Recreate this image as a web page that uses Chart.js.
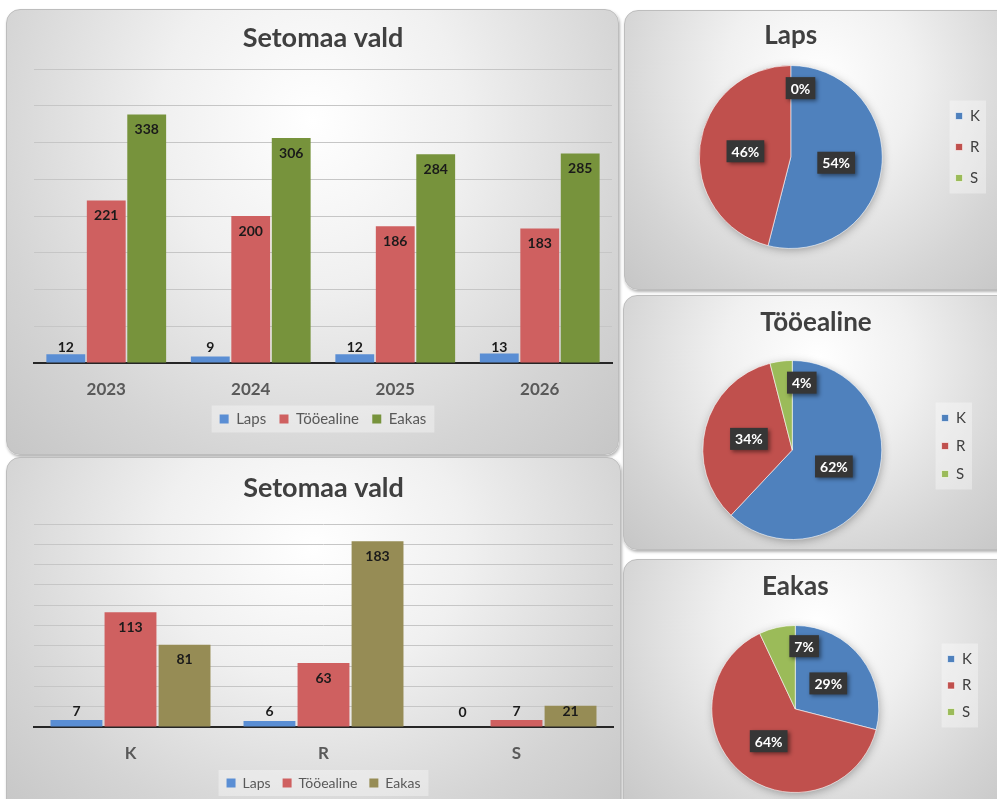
<!DOCTYPE html>
<html>
<head>
<meta charset="utf-8">
<script src="https://cdn.jsdelivr.net/npm/chart.js@4.4.0/dist/chart.umd.min.js"></script>
<style>
  html, body { margin: 0; padding: 0; background: #fff; overflow: hidden; }
  body { width: 997px; height: 799px; position: relative; font-family: Lato, sans-serif; }
  .panel {
    position: absolute;
    box-sizing: border-box;
    border: 1px solid #bdbdbd;
    border-radius: 14px;
    background: radial-gradient(ellipse at 50% 25%, #ffffff 0%, #f0f0f0 35%, #d4d4d4 75%, #c6c6c6 100%);
    box-shadow: 1px 2px 3px rgba(0, 0, 0, 0.3);
  }
  canvas { position: absolute; }
</style>
</head>
<body>
<div class="panel" style="left:6px; top:9px; width:613px; height:446px;"></div>
<div class="panel" style="left:6px; top:457px; width:615px; height:360px;"></div>
<div class="panel" style="left:624px; top:10px; width:390px; height:280px;"></div>
<div class="panel" style="left:623px; top:295px; width:390px; height:255px;"></div>
<div class="panel" style="left:623px; top:559px; width:390px; height:260px;"></div>

<canvas id="barYears" width="613" height="446" style="left:6px; top:9px;"></canvas>
<canvas id="barGroups" width="615" height="350" style="left:6px; top:457px;"></canvas>
<canvas id="pieLaps" width="373" height="280" style="left:624px; top:10px;"></canvas>
<canvas id="pieToo" width="374" height="255" style="left:623px; top:295px;"></canvas>
<canvas id="pieEakas" width="374" height="240" style="left:623px; top:559px;"></canvas>

<script>
// ---------------- data

const years = ['2023', '2024', '2025', '2026'];
const lapsByYear = [12, 9, 12, 13];
const tooealineByYear = [221, 200, 186, 183];
const eakasByYear = [338, 306, 284, 285];

const groups = ['K', 'R', 'S'];
const lapsByGroup = [7, 6, 0];
const tooealineByGroup = [113, 63, 7];
const eakasByGroup = [81, 183, 21];

// pie charts show shares in percent
const lapsPct = [54, 46, 0];
const tooealinePct = [62, 34, 4];
const eakasPct = [29, 64, 7];

const COLORS = {
    blue: '#5A8ED4',
    red: '#CF6060',
    green: '#77933C',
    olive: '#968C55',
    pieBlue: '#4F81BD',
    pieRed: '#C0504D',
    pieGreen: '#9BBB59'
};

const FONT = 'Lato';

// ---------------- plugins

// value labels: inside the top of the bar, or just above the axis for short bars
const barLabels = {
    id: 'barLabels',
    afterDatasetsDraw(chart) {
        const ctx = chart.ctx;
        ctx.save();
        ctx.font = 'bold 14px ' + FONT;
        ctx.fillStyle = '#1a1a1a';
        ctx.textAlign = 'center';
        ctx.textBaseline = 'middle';
        chart.data.datasets.forEach((ds, i) => {
            chart.getDatasetMeta(i).data.forEach((bar, j) => {
                const y = Math.min(bar.y + 15, bar.base - 15);
                ctx.fillText(ds.data[j], bar.x, y);
            });
        });
        ctx.restore();
    }
};

// light box behind the legend items
const legendBg = {
    id: 'legendBg',
    beforeDraw(chart, args, opts) {
        const boxes = chart.legend && chart.legend.legendHitBoxes;
        if (!boxes || !boxes.length) return;
        let l = Infinity, t = Infinity, r = -Infinity, b = -Infinity;
        boxes.forEach(h => {
            l = Math.min(l, h.left);
            t = Math.min(t, h.top);
            r = Math.max(r, h.left + h.width);
            b = Math.max(b, h.top + h.height);
        });
        const ctx = chart.ctx;
        ctx.save();
        ctx.fillStyle = 'rgba(255, 255, 255, 0.35)';
        ctx.fillRect(l - opts.padX, t - opts.padY, r - l + 2 * opts.padX, b - t + 2 * opts.padY);
        ctx.restore();
    }
};

// soft shadow under the pie
const pieShadow = {
    id: 'pieShadow',
    beforeDatasetsDraw(chart) {
        const arc = chart.getDatasetMeta(0).data[0];
        if (!arc) return;
        const ctx = chart.ctx;
        ctx.save();
        ctx.shadowColor = 'rgba(0, 0, 0, 0.35)';
        ctx.shadowBlur = 10;
        ctx.shadowOffsetX = 1;
        ctx.shadowOffsetY = 2;
        ctx.fillStyle = '#999';
        ctx.beginPath();
        ctx.arc(arc.x, arc.y, arc.outerRadius - 1, 0, Math.PI * 2);
        ctx.fill();
        ctx.restore();
    }
};

// percent labels in dark boxes
const pieLabels = {
    id: 'pieLabels',
    afterDatasetsDraw(chart) {
        const ctx = chart.ctx;
        const values = chart.data.datasets[0].data;
        chart.getDatasetMeta(0).data.forEach((arc, i) => {
            const v = values[i];
            let angle, dist;
            if (v >= 10) {
                angle = (arc.startAngle + arc.endAngle) / 2;
                dist = arc.outerRadius * 0.5;
            } else {
                // small slices: label moved next to the slice, like excel's best fit
                angle = arc.endAngle + 0.14;
                dist = arc.outerRadius * 0.76;
            }
            const x = arc.x + Math.cos(angle) * dist;
            const y = arc.y + Math.sin(angle) * dist;
            const txt = v + '%';
            ctx.save();
            ctx.font = 'bold 14px ' + FONT;
            const w = ctx.measureText(txt).width + 10;
            const h = 22;
            ctx.shadowColor = 'rgba(0, 0, 0, 0.45)';
            ctx.shadowBlur = 4;
            ctx.shadowOffsetX = 2;
            ctx.shadowOffsetY = 2;
            ctx.fillStyle = '#363636';
            ctx.fillRect(x - w / 2, y - h / 2, w, h);
            ctx.shadowColor = 'transparent';
            ctx.fillStyle = '#ffffff';
            ctx.textAlign = 'center';
            ctx.textBaseline = 'middle';
            ctx.fillText(txt, x, y + 1);
            ctx.restore();
        });
    }
};

// ---------------- charts

function barChart(id, labels, series, colors, lay) {
    const names = ['Laps', 'Tööealine', 'Eakas'];
    return new Chart(document.getElementById(id), {
        type: 'bar',
        data: {
            labels: labels,
            datasets: series.map((d, i) => ({
                label: names[i],
                data: d,
                backgroundColor: colors[i],
                barPercentage: 0.96,
                categoryPercentage: lay.cat
            }))
        },
        options: {
            responsive: false,
            animation: false,
            layout: { padding: { left: 28, right: lay.right, top: 0, bottom: lay.bottom } },
            scales: {
                x: {
                    grid: { display: false, drawTicks: false },
                    border: { display: true, color: '#262626', width: 2 },
                    ticks: { color: '#595959', padding: 16.8, font: { family: FONT, size: 17, weight: 'bold' } },
                    afterFit: scale => { scale.height = lay.axisHeight; }
                },
                y: {
                    min: 0,
                    max: lay.max,
                    ticks: { display: false, stepSize: lay.step },
                    grid: { color: '#c6c6c6', drawTicks: false },
                    border: { display: false }
                }
            },
            plugins: {
                title: {
                    display: true,
                    text: 'Setomaa vald',
                    color: '#404040',
                    font: { family: FONT, size: 27, weight: 'bold' },
                    padding: { top: lay.titleTop, bottom: lay.titleBottom }
                },
                legend: {
                    position: 'bottom',
                    labels: {
                        boxWidth: 9,
                        boxHeight: 9,
                        padding: lay.legendPad,
                        color: '#595959',
                        font: { family: FONT, size: lay.legendSize }
                    }
                },
                legendBg: { padX: 8, padY: 6 },
                tooltip: { enabled: false }
            }
        },
        plugins: [legendBg, barLabels]
    });
}

function pieChart(id, title, values, lay) {
    return new Chart(document.getElementById(id), {
        type: 'pie',
        data: {
            labels: groups,
            datasets: [{
                data: values,
                backgroundColor: [COLORS.pieBlue, COLORS.pieRed, COLORS.pieGreen],
                borderColor: 'rgba(255, 255, 255, 0.6)',
                borderWidth: 1
            }]
        },
        options: {
            responsive: false,
            animation: false,
            layout: { padding: { left: lay.left, right: lay.right, top: 0, bottom: lay.bottom } },
            plugins: {
                title: {
                    display: true,
                    text: title,
                    fullSize: lay.titleFull,
                    color: '#404040',
                    font: { family: FONT, size: 26, weight: 'bold' },
                    padding: { top: lay.titleTop, bottom: lay.titleBottom }
                },
                legend: {
                    position: 'right',
                    align: 'start',
                    fullSize: false,
                    title: { display: true, text: ' ', font: { size: 10 }, padding: { top: lay.legendTop, bottom: 0 } },
                    labels: {
                        boxWidth: 7,
                        boxHeight: 7,
                        padding: lay.gap,
                        color: '#404040',
                        font: { family: FONT, size: 15 }
                    }
                },
                legendBg: { padX: 6, padY: 8 },
                tooltip: { enabled: false }
            }
        },
        plugins: [legendBg, pieShadow, pieLabels]
    });
}

barChart('barYears', years, [lapsByYear, tooealineByYear, eakasByYear],
    [COLORS.blue, COLORS.red, COLORS.green],
    { max: 400, step: 50, cat: 0.84, right: 7, bottom: 18.5, titleTop: 12.8, titleBottom: 14.8,
      axisHeight: 35.2, legendPad: 13.3, legendSize: 15 });

barChart('barGroups', groups, [lapsByGroup, tooealineByGroup, eakasByGroup],
    [COLORS.blue, COLORS.red, COLORS.olive],
    { max: 200, step: 20, cat: 0.84, right: 8, bottom: 7, titleTop: 14.8, titleBottom: 19.8,
      axisHeight: 37, legendPad: 12, legendSize: 14 });

pieChart('pieLaps', 'Laps', lapsPct,
    { left: 18, right: 7, bottom: 41, titleTop: 10.4, titleBottom: 13.4, titleFull: false, legendTop: 15.5, gap: 16 });
pieChart('pieToo', 'Tööealine', tooealinePct,
    { left: 33, right: 21, bottom: 10, titleTop: 12.4, titleBottom: 21.4, titleFull: true, legendTop: 25.5, gap: 13 });
pieChart('pieEakas', 'Eakas', eakasPct,
    { left: 31.5, right: 15, bottom: 6, titleTop: 12.4, titleBottom: 22.4, titleFull: false, legendTop: 3, gap: 11.5 });
</script>
</body>
</html>
